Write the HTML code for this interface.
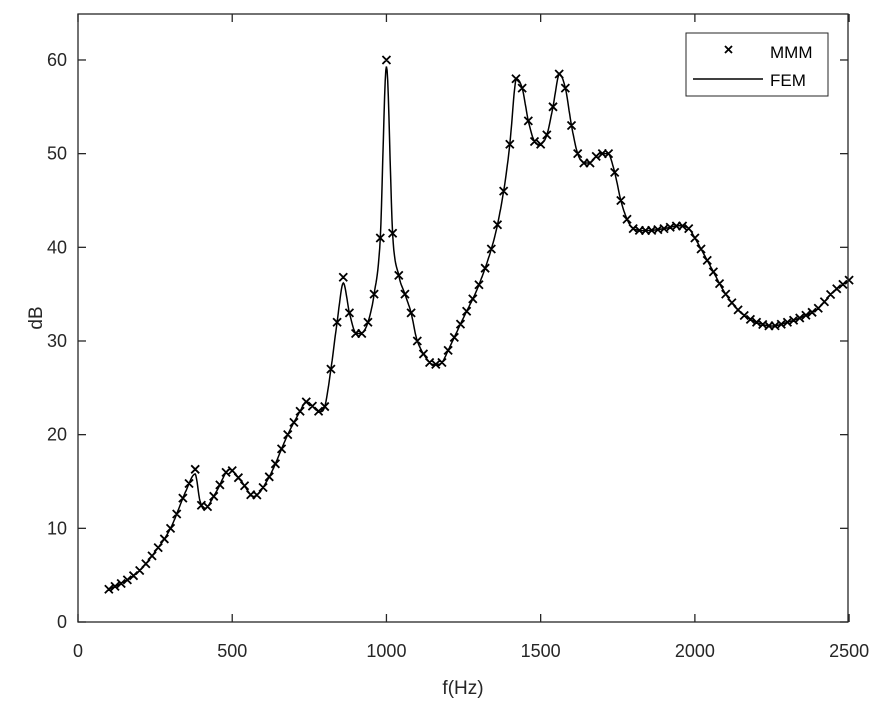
<!DOCTYPE html>
<html><head><meta charset="utf-8"><style>
html,body{margin:0;padding:0;background:#fff;}
svg{display:block;font-family:"Liberation Sans",Arial,sans-serif;}
</style></head><body>
<svg id="s" width="876" height="706" viewBox="0 0 876 706">
<rect x="0" y="0" width="876" height="706" fill="#fff"/>
<g id="plot"></g>
<rect x="78" y="14" width="770" height="608" fill="none" stroke="#262626" stroke-width="1.3"/>
<g id="ticks" stroke="#262626" stroke-width="1.3"></g>
<g id="labels" fill="#262626" font-size="18"></g>
<text x="463" y="694" text-anchor="middle" font-size="19" fill="#262626">f(Hz)</text>
<text transform="translate(42,318) rotate(-90)" text-anchor="middle" font-size="19" fill="#262626">dB</text>
<rect x="686" y="33" width="142" height="63" fill="#fff" stroke="#262626" stroke-width="1"/>
<path d="M725,46 l7,7 M732,46 l-7,7" stroke="#000" stroke-width="1.8"/>
<text x="770" y="58" font-size="17" fill="#000">MMM</text>
<line x1="693" y1="79" x2="763" y2="79" stroke="#000" stroke-width="1.4"/>
<text x="770" y="86" font-size="17" fill="#000">FEM</text>
</svg>
<script>
var X=function(f){return 78+f*0.30844;};
var Y=function(d){return 622-d*9.367;};
var pts=[[100,3.5],[150,4.3],[200,5.5],[250,7.5],[300,10],[350,14],[380,15.8],[395,13],[410,12],[450,14],[490,16.3],[530,15],[570,13.4],[620,15.5],[680,20],[720,22.5],[740,23.5],[780,22.5],[800,23],[820,27],[840,32],[860,36.2],[880,33],[900,30.8],[920,30.8],[940,32],[960,35],[980,41],[1000,59.3],[1020,41.5],[1040,37],[1060,35],[1080,33],[1100,30],[1140,27.7],[1160,27.5],[1180,27.7],[1200,29],[1250,32.5],[1300,36],[1350,41],[1380,46],[1400,51],[1420,58],[1440,57],[1460,53.5],[1480,51.3],[1500,51],[1520,52],[1540,55],[1560,58.5],[1580,57],[1600,53],[1620,50],[1640,49],[1660,49],[1690,50],[1720,50],[1740,48],[1760,45],[1780,43],[1800,42],[1850,41.8],[1900,42],[1950,42.3],[1980,42],[2000,41],[2050,38],[2100,35],[2150,33],[2200,32],[2250,31.6],[2300,32],[2350,32.6],[2400,33.5],[2450,35.3],[2500,36.5]];
function val(f){for(var i=0;i<pts.length-1;i++){if(f<=pts[i+1][0]){var a=pts[i],b=pts[i+1];var t=(f-a[0])/(b[0]-a[0]);var p0=pts[Math.max(i-1,0)],p3=pts[Math.min(i+2,pts.length-1)];
var m1=(b[1]-p0[1])/(b[0]-p0[0])*(b[0]-a[0]),m2=(p3[1]-a[1])/(p3[0]-a[0])*(b[0]-a[0]);
if((b[1]-a[1])*m1<=0)m1=0;if((b[1]-a[1])*m2<=0)m2=0;
var t2=t*t,t3=t2*t;return (2*t3-3*t2+1)*a[1]+(t3-2*t2+t)*m1+(-2*t3+3*t2)*b[1]+(t3-t2)*m2;}}return pts[pts.length-1][1];}
var ns="http://www.w3.org/2000/svg",g=document.getElementById("plot");
var d="";for(var f=100;f<=2500;f+=2){d+=(f==100?"M":"L")+X(f).toFixed(1)+","+Y(val(f)).toFixed(1);}
var p=document.createElementNS(ns,"path");p.setAttribute("d",d);p.setAttribute("fill","none");p.setAttribute("stroke","#000");p.setAttribute("stroke-width","1.5");g.appendChild(p);
var m="";for(var f=100;f<=2500;f+=20){var v=val(f);if(f==380)v=16.3;if(f==860)v=36.8;if(f==1000)v=60;var x=X(f),y=Y(v);m+="M"+(x-4)+","+(y-4)+"l8,8M"+(x+4)+","+(y-4)+"l-8,8";}
var q=document.createElementNS(ns,"path");q.setAttribute("d",m);q.setAttribute("stroke","#000");q.setAttribute("stroke-width","1.8");g.appendChild(q);
var tk=document.getElementById("ticks"),lb=document.getElementById("labels");
function L(x1,y1,x2,y2){var l=document.createElementNS(ns,"line");l.setAttribute("x1",x1);l.setAttribute("y1",y1);l.setAttribute("x2",x2);l.setAttribute("y2",y2);tk.appendChild(l);}
function T(x,y,s,a){var t=document.createElementNS(ns,"text");t.setAttribute("x",x);t.setAttribute("y",y);t.setAttribute("text-anchor",a);t.textContent=s;lb.appendChild(t);}
for(var f=0;f<=2500;f+=500){var x=X(f);L(x,622,x,614);L(x,14,x,22);T(x,657,String(f),"middle");}
for(var v=0;v<=60;v+=10){var y=Y(v);L(78,y,86,y);L(848,y,840,y);T(67,y+6,String(v),"end");}
</script>
</body></html>
